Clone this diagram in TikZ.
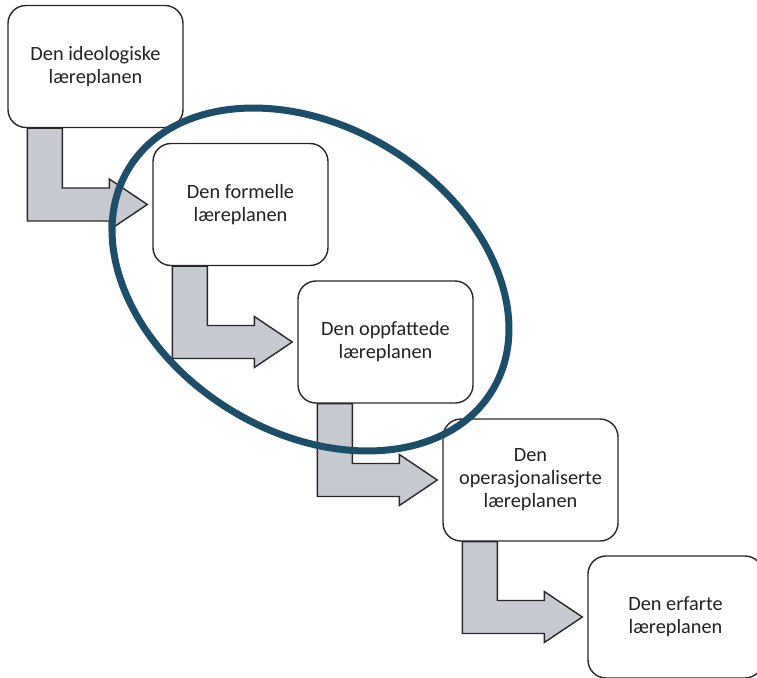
\documentclass[tikz,border=0pt]{standalone}
\usepackage{fontspec}
\setmainfont{Carlito}
\usetikzlibrary{calc}
\definecolor{edge}{RGB}{40,40,40}
\definecolor{textgray}{RGB}{34,34,34}
\definecolor{flowfill}{RGB}{200,202,209}
\definecolor{ringblue}{RGB}{27,78,107}
\tikzset{
  stage/.style={draw=edge, line width=1.4pt, fill=white, rounded corners=18pt,
    minimum width=175pt, minimum height=122pt, align=center, inner sep=0pt,
    text=textgray, font=\fontsize{20.3pt}{23pt}\selectfont},
  flow/.style={draw=edge, line width=1.4pt, fill=flowfill, line join=miter},
  ring/.style={draw=ringblue, line width=7pt}
}
% bent block arrow from the bottom of stage #1 to the left side of stage #2
\newcommand\steparrow[2]{%
  \path (#1.south west) ++(20,0) coordinate (#1-o) ++(35,0) coordinate (#1-i);
  \coordinate (#1-tip) at ([xshift=-5pt]#2.west);
  \draw[flow] (#1-o) -- (#1-i)
    -- ($(#1-i |- #2.west)+(0,-16.5)$)
    -- ($(#1-tip)+(-38,-16.5)$) -- ($(#1-tip)+(-38,-25.5)$)
    -- (#1-tip)
    -- ($(#1-tip)+(-38,25.5)$) -- ($(#1-tip)+(-38,16.5)$)
    -- ($(#1-o |- #2.west)+(0,16.5)$) -- cycle;}
\begin{document}
\begin{tikzpicture}[x=1pt, y=-1pt]
  \path[use as bounding box, clip] (0,0) rectangle (757,677);
  \fill[white] (0,0) rectangle (757,677);

  \node[stage] (s1) at (95.5,66.5)    {Den ideologiske\\læreplanen};
  \node[stage] (s2) at (240.5,204.5) {Den formelle\\læreplanen};
  \node[stage] (s3) at (385.5,342)  {Den oppfattede\\læreplanen};
  \node[stage] (s4) at (530.5,480)  {Den\\operasjonaliserte\\læreplanen};
  \node[stage] (s5) at (675.5,617)  {Den erfarte\\læreplanen};

  \steparrow{s1}{s2}
  \steparrow{s2}{s3}
  \steparrow{s3}{s4}
  \steparrow{s4}{s5}

  % ring round the formal and perceived stages
  \draw[ring, shift={(310.5,279.5)}, rotate=-31.5] (0,0) ellipse [x radius=213pt, y radius=153pt];
\end{tikzpicture}
\end{document}
